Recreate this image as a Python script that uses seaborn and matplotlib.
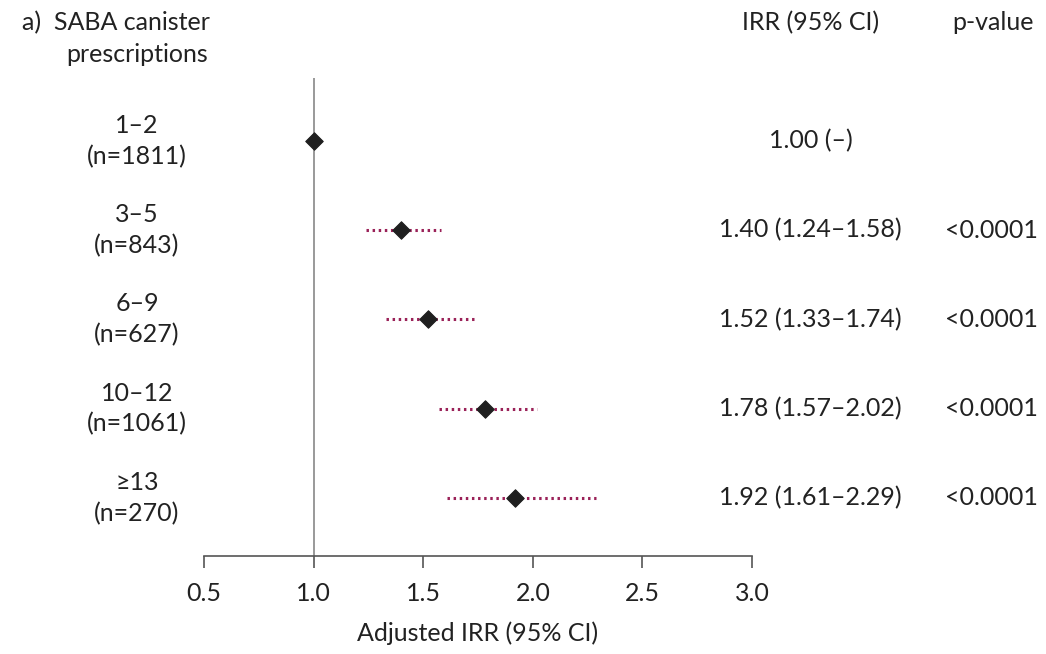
import matplotlib
matplotlib.use("Agg")
import matplotlib.pyplot as plt
import matplotlib.transforms as mtransforms
import seaborn as sns
import pandas as pd

# forest plot data
groups = ["1\u20132", "3\u20135", "6\u20139", "10\u201312", "\u226513"]
n_sizes = [1811, 843, 627, 1061, 270]
irr = [1.00, 1.40, 1.52, 1.78, 1.92]
ci_low = [1.00, 1.24, 1.33, 1.57, 1.61]
ci_high = [1.00, 1.58, 1.74, 2.02, 2.29]
irr_text = ["1.00 (\u2013)", "1.40 (1.24\u20131.58)", "1.52 (1.33\u20131.74)",
            "1.78 (1.57\u20132.02)", "1.92 (1.61\u20132.29)"]
p_text = ["", "<0.0001", "<0.0001", "<0.0001", "<0.0001"]

df = pd.DataFrame({"group": groups, "n": n_sizes, "irr": irr,
                   "lo": ci_low, "hi": ci_high, "row": range(len(groups))})

sns.set_style("white")
plt.rcParams["font.family"] = ["Lato", "DejaVu Sans"]
txt = "#222222"
fs = 18

fig = plt.figure(figsize=(10.46, 6.54), dpi=100)
ax = fig.add_axes([0.195, 0.150, 0.524, 0.731])

# confidence intervals (skip the reference row)
ci = df[df["lo"] < df["hi"]]
ax.hlines(ci["row"], ci["lo"], ci["hi"], color="#9a2158", lw=2.2,
          linestyles=(0, (0.8, 1.2)), zorder=2)
ax.axvline(1.0, color="#888888", lw=1.2, zorder=1)
sns.scatterplot(data=df, x="irr", y="row", marker="D", s=80, color="#1f1f1f",
                edgecolor="#1f1f1f", ax=ax, zorder=3, legend=False)

ax.set_xlim(0.5, 3.0)
ax.set_ylim(4.65, -0.706)
ax.set_xticks([0.5, 1.0, 1.5, 2.0, 2.5, 3.0])
ax.set_xticklabels(["0.5", "1.0", "1.5", "2.0", "2.5", "3.0"], fontsize=fs, color=txt)
ax.set_yticks([])
ax.set_ylabel("")
ax.set_xlabel("Adjusted IRR (95% CI)", fontsize=fs, color=txt, labelpad=12)
ax.tick_params(axis="x", bottom=True, direction="out", length=8.5, width=1.2,
               color="#555555", pad=10)
for s in ["top", "left", "right"]:
    ax.spines[s].set_visible(False)
ax.spines["bottom"].set_color("#555555")
ax.spines["bottom"].set_linewidth(1.2)

# row labels and values, x in figure fraction, y in data
tr = mtransforms.blended_transform_factory(fig.transFigure, ax.transData)
for i, (g, n) in enumerate(zip(groups, n_sizes)):
    ax.text(0.131, i, f"{g}\n(n={n})", transform=tr, ha="center", va="center",
            fontsize=fs, color=txt, linespacing=1.4)
    ax.text(0.775, i, irr_text[i], transform=tr, ha="center", va="center",
            fontsize=fs, color=txt)
    ax.text(0.948, i, p_text[i], transform=tr, ha="center", va="center",
            fontsize=fs, color=txt)

# headers
fig.text(0.021, 0.966, "a)  SABA canister", ha="left", va="center", fontsize=fs, color=txt)
fig.text(0.131, 0.916, "prescriptions", ha="center", va="center", fontsize=fs, color=txt)
fig.text(0.775, 0.966, "IRR (95% CI)", ha="center", va="center", fontsize=fs, color=txt)
fig.text(0.949, 0.966, "p-value", ha="center", va="center", fontsize=fs, color=txt)

fig.savefig("out.png", dpi=100)
